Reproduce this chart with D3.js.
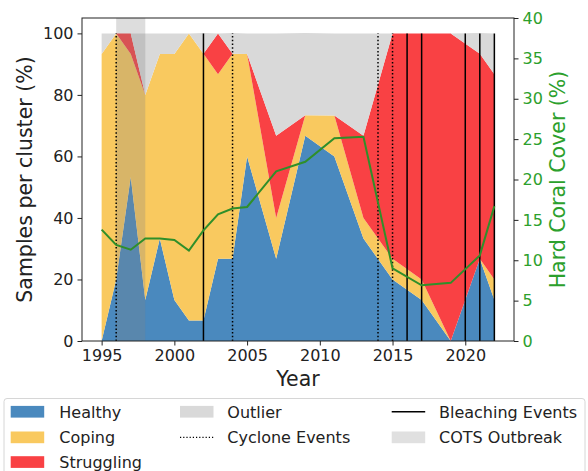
<!DOCTYPE html>
<html>
<head>
<meta charset="utf-8">
<script src="https://cdn.jsdelivr.net/npm/d3@7"></script>
<style>
  body { margin: 0; background: #fff; }
  text { font-family: "DejaVu Sans", sans-serif; }
</style>
</head>
<body>
<div id="chart"></div>
<script>
// cluster shares per survey year (%)
const years = [1995, 1996, 1997, 1998, 1999, 2000, 2001, 2002, 2003, 2004, 2005,
  2007, 2009, 2011, 2013, 2015, 2017, 2019, 2021, 2022]
const healthy = [0, 20, 53.3, 13.3, 33.3, 13.3, 6.7, 6.7, 26.7, 26.7, 60,
  26.7, 66.7, 60, 33.3, 20, 13.3, 0, 26.7, 13.3]
const coping = [93.3, 80, 40, 66.7, 60, 80, 93.3, 86.7, 60, 66.7, 33.3,
  13.3, 6.7, 13.3, 6.7, 6.7, 6.7, 0, 0, 6.7]
const struggling = [0, 0, 6.7, 0, 0, 0, 0, 0, 13.3, 0, 0,
  26.7, 0, 0, 26.7, 73.3, 80, 100, 66.7, 66.7]
const outlier = [6.7, 0, 0, 20, 6.7, 6.7, 0, 6.7, 0, 6.7, 6.7,
  33.3, 26.7, 26.7, 33.3, 0, 0, 0, 6.7, 13.3]

// hard coral cover (%)
const coralYears = [1995, 1996, 1997, 1998, 1999, 2000, 2001, 2002, 2003, 2004, 2005,
  2007, 2009, 2011, 2013, 2015, 2017, 2019, 2021, 2022]
const coralCover = [13.8, 11.9, 11.3, 12.7, 12.7, 12.5, 11.2, 13.7, 15.7, 16.4, 16.6,
  21.0, 22.2, 25.1, 25.3, 9.0, 6.9, 7.2, 10.6, 16.7]

const cycloneYears = [1996, 2004, 2014, 2015]
const bleachingYears = [2002, 2016, 2017, 2020, 2021, 2022]
const cotsSpan = [1996, 1998]

const xTicks = [1995, 2000, 2005, 2010, 2015, 2020]
const leftTicks = [0, 20, 40, 60, 80, 100]
const rightTicks = [0, 5, 10, 15, 20, 25, 30, 35, 40]

const colors = {
  healthy: '#4a89be',
  coping: '#f9c95f',
  struggling: '#f94144',
  outlier: '#d9d9d9'
}
const green = '#2ca02c'
const lineGreen = '#2f8f2a'

function drawChart() {
  const width = 588, height = 471
  const left = 82, right = 514, top = 18, bottom = 341

  const svg = d3.select('#chart').append('svg')
    .attr('width', width)
    .attr('height', height)

  const pad = (years[years.length - 1] - years[0]) * 0.05
  const xScale = d3.scaleLinear()
    .domain([years[0] - pad, years[years.length - 1] + pad])
    .range([left, right])
  const yScale = d3.scaleLinear().domain([0, 105]).range([bottom, top])
  const yRight = d3.scaleLinear().domain([0, 40]).range([bottom, top])

  const rows = years.map((y, i) => ({
    year: y, healthy: healthy[i], coping: coping[i],
    struggling: struggling[i], outlier: outlier[i]
  }))
  const keys = ['healthy', 'coping', 'struggling', 'outlier']
  const series = d3.stack().keys(keys)(rows)

  const area = d3.area()
    .x(d => xScale(d.data.year))
    .y0(d => yScale(d[0]))
    .y1(d => yScale(d[1]))

  svg.append('g').selectAll('path')
    .data(series)
    .enter()
    .append('path')
    .attr('d', area)
    .attr('fill', d => colors[d.key])

  // COTS outbreak span
  svg.append('rect')
    .attr('x', xScale(cotsSpan[0]))
    .attr('y', top)
    .attr('width', xScale(cotsSpan[1]) - xScale(cotsSpan[0]))
    .attr('height', bottom - top)
    .attr('fill', '#808080')
    .attr('opacity', 0.27)

  // event lines
  svg.append('g').selectAll('line')
    .data(bleachingYears)
    .enter()
    .append('line')
    .attr('x1', d => xScale(d)).attr('x2', d => xScale(d))
    .attr('y1', yScale(0)).attr('y2', yScale(100))
    .attr('stroke', '#000')
    .attr('stroke-width', 1.5)

  svg.append('g').selectAll('line')
    .data(cycloneYears)
    .enter()
    .append('line')
    .attr('x1', d => xScale(d)).attr('x2', d => xScale(d))
    .attr('y1', yScale(0)).attr('y2', yScale(100))
    .attr('stroke', '#000')
    .attr('stroke-width', 1.5)
    .attr('stroke-dasharray', '1.5,2.2')

  // coral cover line
  const line = d3.line()
    .x((d, i) => xScale(coralYears[i]))
    .y(d => yRight(d))
  svg.append('path')
    .datum(coralCover)
    .attr('d', line)
    .attr('fill', 'none')
    .attr('stroke', lineGreen)
    .attr('stroke-width', 2)

  // axes
  const xAxis = d3.axisBottom(xScale).tickValues(xTicks).tickFormat(d3.format('d'))
    .tickSize(4.5).tickPadding(4)
  const yAxis = d3.axisLeft(yScale).tickValues(leftTicks).tickSize(4.5).tickPadding(4)
  const yAxisR = d3.axisRight(yRight).tickValues(rightTicks).tickSize(4.5).tickPadding(4)

  const gx = svg.append('g').attr('transform', `translate(0,${bottom})`).call(xAxis)
  const gy = svg.append('g').attr('transform', `translate(${left},0)`).call(yAxis)
  const gr = svg.append('g').attr('transform', `translate(${right},0)`).call(yAxisR)

  ;[gx, gy, gr].forEach(g => {
    g.select('.domain').remove()
    g.selectAll('.tick line').attr('stroke', '#222').attr('stroke-width', 1)
    g.selectAll('.tick text')
      .attr('font-size', 16)
      .attr('font-family', 'DejaVu Sans')
      .attr('fill', '#222')
  })
  gr.selectAll('.tick text').attr('fill', green)

  // frame
  svg.append('rect')
    .attr('x', left).attr('y', top)
    .attr('width', right - left).attr('height', bottom - top)
    .attr('fill', 'none')
    .attr('stroke', '#222')
    .attr('stroke-width', 1)

  // axis labels
  svg.append('text')
    .attr('x', (left + right) / 2).attr('y', 386)
    .attr('text-anchor', 'middle')
    .attr('font-size', 20.5)
    .attr('fill', '#222')
    .text('Year')

  svg.append('text')
    .attr('transform', `translate(32,${(top + bottom) / 2}) rotate(-90)`)
    .attr('text-anchor', 'middle')
    .attr('font-size', 20.5)
    .attr('fill', '#222')
    .text('Samples per cluster (%)')

  svg.append('text')
    .attr('transform', `translate(565,${(top + bottom) / 2}) rotate(-90)`)
    .attr('text-anchor', 'middle')
    .attr('font-size', 20.5)
    .attr('fill', green)
    .text('Hard Coral Cover (%)')

  // legend
  const lg = svg.append('g')
  lg.append('rect')
    .attr('x', 4).attr('y', 398.5)
    .attr('width', 581).attr('height', 90)
    .attr('rx', 3)
    .attr('fill', '#fff')
    .attr('stroke', '#d6d6d6')
    .attr('stroke-width', 1)

  const rowY = [411.7, 437.3, 462]
  const items = [
    { label: 'Healthy', type: 'patch', color: colors.healthy, col: 0, row: 0 },
    { label: 'Coping', type: 'patch', color: colors.coping, col: 0, row: 1 },
    { label: 'Struggling', type: 'patch', color: colors.struggling, col: 0, row: 2 },
    { label: 'Outlier', type: 'patch', color: colors.outlier, col: 1, row: 0 },
    { label: 'Cyclone Events', type: 'dotted', col: 1, row: 1 },
    { label: 'Bleaching Events', type: 'solid', col: 2, row: 0 },
    { label: 'COTS Outbreak', type: 'patch', color: '#e0e0e0', col: 2, row: 1 }
  ]
  const colX = [10.7, 180, 391.7]
  const textX = [59.3, 227.3, 439]

  items.forEach(it => {
    const cy = rowY[it.row]
    const x0 = colX[it.col]
    if (it.type === 'patch') {
      lg.append('rect')
        .attr('x', x0).attr('y', cy - 5.8)
        .attr('width', 33.5).attr('height', 11.7)
        .attr('fill', it.color)
    } else {
      lg.append('line')
        .attr('x1', x0).attr('x2', x0 + 33.5)
        .attr('y1', cy).attr('y2', cy)
        .attr('stroke', '#000')
        .attr('stroke-width', it.type === 'solid' ? 1.5 : 1.2)
        .attr('stroke-dasharray', it.type === 'dotted' ? '1.2,2' : null)
    }
    lg.append('text')
      .attr('x', textX[it.col]).attr('y', cy + 5.8)
      .attr('font-size', 16)
      .attr('fill', '#222')
      .text(it.label)
  })
}

drawChart()
</script>
</body>
</html>
